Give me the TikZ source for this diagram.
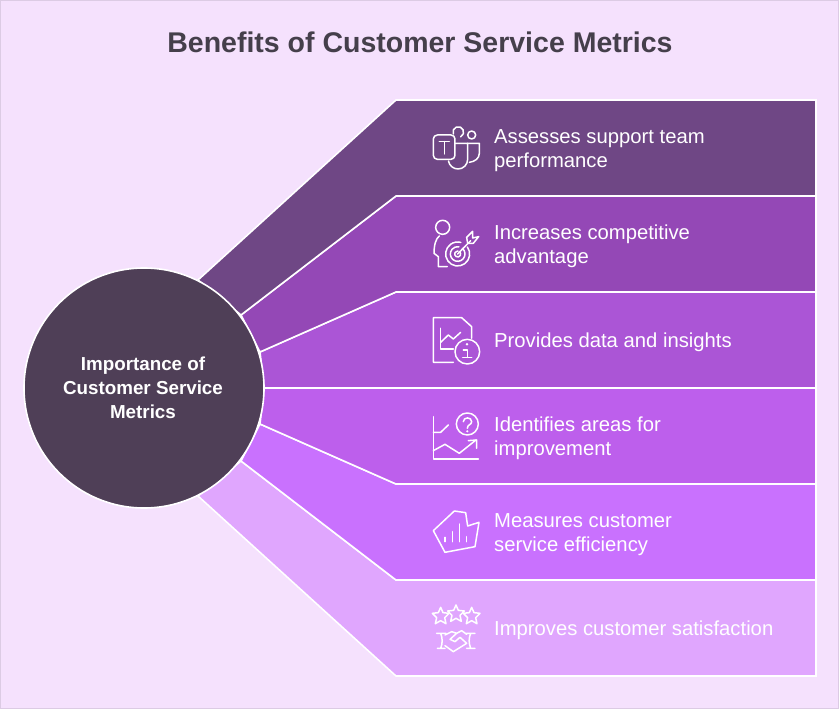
\documentclass[tikz,border=0pt]{standalone}
\usepackage{fontspec}
\setmainfont{Liberation Sans}
\definecolor{bgc}{HTML}{F5E1FD}
\definecolor{edgec}{HTML}{DCCBE4}
\definecolor{bandA}{HTML}{6F4785}
\definecolor{bandB}{HTML}{9448B6}
\definecolor{bandC}{HTML}{AB55D6}
\definecolor{bandD}{HTML}{BD5FEC}
\definecolor{bandE}{HTML}{C971FE}
\definecolor{bandF}{HTML}{E0A6FE}
\definecolor{hub}{HTML}{4F3F57}
\definecolor{titlec}{HTML}{453F4B}
\tikzset{
  band/.style={draw=white,line width=1.6pt,line join=miter},
  lbl/.style={anchor=west,align=left,text=white,font=\fontsize{20.25}{24}\selectfont,inner sep=0pt},
  ico/.style={draw=white,line width=1.5pt,line cap=round,line join=round},
  izoom/.style={shift={#1},x=0.3333pt,y=-0.3333pt},
}
\begin{document}
\begin{tikzpicture}[x=1pt,y=-1pt]
\useasboundingbox (0,0) rectangle (839,709);
\fill[bgc] (0,0) rectangle (839,709);
\draw[edgec,line width=1.5pt] (0.5,0.5) rectangle (838.5,708.5);
\node[text=titlec,font=\bfseries\fontsize{28.5}{32}\selectfont,inner sep=0pt] (title) at (420,42) {Benefits of Customer Service Metrics};
% bands
\filldraw[band,fill=bandF] (198,496) -- (396,676) -- (816,676) -- (816,580) -- (396,580) -- (241,461) -- cycle;
\filldraw[band,fill=bandE] (241,461) -- (396,580) -- (816,580) -- (816,484) -- (396,484) -- (260,424) -- cycle;
\filldraw[band,fill=bandD] (260,424) -- (396,484) -- (816,484) -- (816,388) -- (264,388) -- cycle;
\filldraw[band,fill=bandC] (264,388) -- (816,388) -- (816,292) -- (396,292) -- (260,352) -- cycle;
\filldraw[band,fill=bandB] (260,352) -- (396,292) -- (816,292) -- (816,196) -- (396,196) -- (241,315) -- cycle;
\filldraw[band,fill=bandA] (241,315) -- (396,196) -- (816,196) -- (816,100) -- (396,100) -- (198,280) -- cycle;
\node[circle,minimum size=240pt,inner sep=0pt,fill=hub,draw=white,line width=1.6pt] (hubn) at (144,388) {};
\node[text=white,align=center,inner sep=0pt,font=\bfseries\fontsize{18.8}{24}\selectfont] (hubt) at (143,388) {Importance of\\Customer Service\\Metrics};
\node[lbl] (t1) at (494,150.5) {Assesses support team\\performance};
\node[lbl] (t2) at (494,246.5) {Increases competitive\\advantage};
\node[lbl] (t3) at (494,342) {Provides data and insights};
\node[lbl] (t4) at (494,438.5) {Identifies areas for\\improvement};
\node[lbl] (t5) at (494,534.5) {Measures customer\\service efficiency};
\node[lbl] (t6) at (494,630) {Improves customer satisfaction};
% icon 1 and 2
\begin{scope}[izoom={(420,110)}]
\draw[ico,rounded corners=4pt] (40,75) rectangle (105,148);
\draw[ico] (58,95) -- (88,95) (73,95) -- (73,132);
\draw[ico] (100,72) arc[start angle=158,end angle=423,radius=16];
\draw[ico] (155,75) circle[radius=12];
\draw[ico] (105,100) -- (143,100) -- (143,148) arc[start angle=0,end angle=170,radius=29];
\draw[ico] (143,100) -- (178,100) -- (178,130) .. controls (178,145) and (165,155) .. (148,157);
\draw[ico] (68,352) circle[radius=21];
\draw[ico] (58,378) .. controls (48,385) and (42,405) .. (42,430) -- (55,440) -- (55,470) -- (82,470);
\draw[ico] (113,432) ++(-36:36) arc[start angle=-36,end angle=285,radius=36];
\draw[ico] (113,432) ++(-50:22) arc[start angle=-50,end angle=280,radius=22];
\draw[ico] (113,432) ++(-60:9) arc[start angle=-60,end angle=270,radius=9];
\draw[ico] (113,432) -- (152,392);
\draw[ico] (140,382) -- (158,364) -- (158,384) -- (176,380) -- (160,400) -- (143,400) -- cycle;
\end{scope}
% icon 3 and 4
\begin{scope}[izoom={(420,305)}]
\draw[ico] (100,172) -- (40,172) -- (40,38) -- (125,38) -- (155,65) -- (155,100);
\draw[ico] (62,70) -- (62,132) -- (100,132);
\draw[ico] (62,112) -- (85,90) -- (100,102) -- (122,82);
\draw[ico] (142,140) circle[radius=37];
\fill[white] (141,118) circle[radius=4];
\draw[ico] (130,135) -- (142,135) -- (142,157) (128,157) -- (155,157);
\draw[ico] (40,335) -- (40,462) -- (175,462);
\draw[ico] (40,382) -- (62,382) -- (85,360);
\draw[ico] (142,357) circle[radius=33];
\draw[ico] (130,350) .. controls (130,335) and (155,335) .. (155,350) .. controls (155,360) and (142,358) .. (142,370);
\fill[white] (142,379) circle[radius=3.5];
\draw[ico] (40,437) -- (75,418) -- (118,445) -- (168,405);
\draw[ico] (145,407) -- (170,405) -- (170,430);
\end{scope}
% icon 5 and 6
\begin{scope}[izoom={(420,500)}]
\draw[ico] (40,92) -- (103,33) -- (137,38) -- (143,78) -- (177,67) -- (165,140) -- (75,157) -- cycle;
\draw[ico] (75,112) -- (75,125) (97,95) -- (97,125) (118,72) -- (118,125) (140,110) -- (140,125);
\foreach \cx/\cy in {62/347,155/347,108/340}{
\filldraw[ico,fill=bandF] (\cx,\cy-25)
 -- ++(7,16) -- ++(18,2) -- ++(-13,13) -- ++(4,18) -- ++(-16,-9) -- ++(-16,9) -- ++(4,-18) -- ++(-13,-13) -- ++(18,-2) -- cycle;
}
\draw[ico] (50,400) -- (78,400) (52,445) -- (75,445) (62,400) .. controls (68,415) and (68,430) .. (62,445);
\draw[ico] (140,400) -- (165,400) (140,445) -- (165,445) (152,400) .. controls (146,415) and (146,430) .. (152,445);
\draw[ico] (75,405) -- (95,395) -- (110,400) -- (90,418) -- (105,425) -- (120,412) -- (140,430) -- (100,455) -- (75,437);
\draw[ico] (110,400) -- (125,392) -- (140,403);
\end{scope}
\end{tikzpicture}
\end{document}
